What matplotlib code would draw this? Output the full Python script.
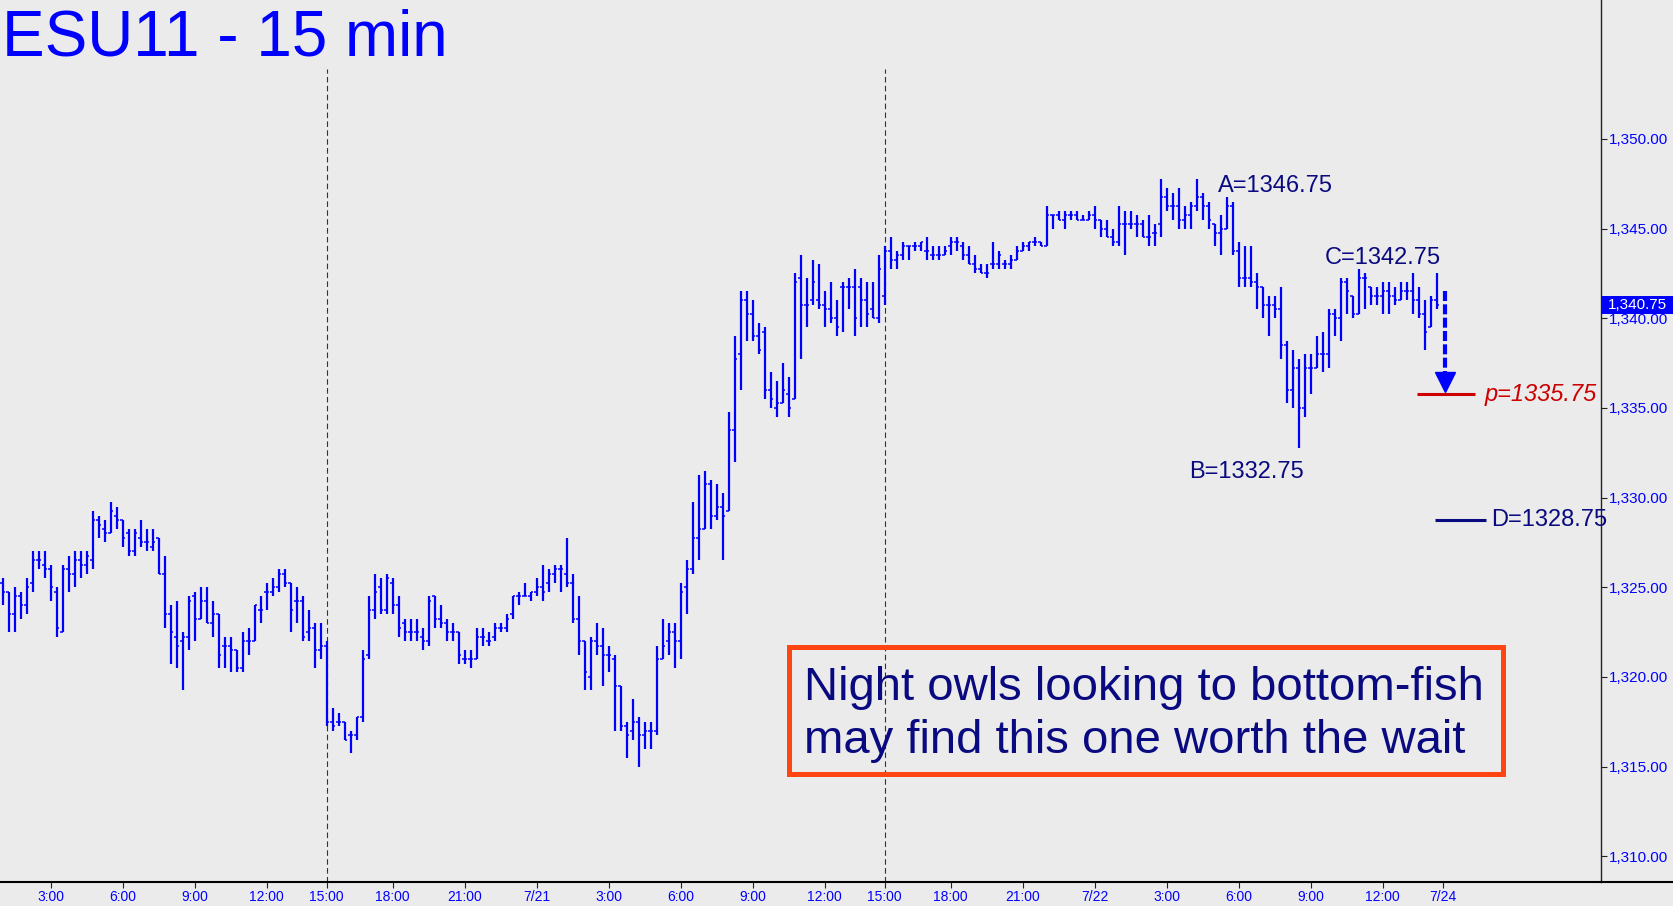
"""ESU11 15-minute bar chart with ABCD pattern annotation."""
import matplotlib
matplotlib.use("Agg")
import matplotlib.pyplot as plt
import numpy as np
from matplotlib.lines import Line2D
from matplotlib.patches import Rectangle
from matplotlib.ticker import FuncFormatter
from matplotlib.transforms import blended_transform_factory

plt.rcParams["font.family"] = ["Liberation Sans", "DejaVu Sans"]

# OHLC per 15-min bar (bar index = position on the x axis)
opens = [
    1325.25, 1324.75, 1323.5, 1324.5, 1324.0, 1325.25, 1326.5, 1326.25, 1326.0, 1324.75,
    1322.5, 1326.0, 1325.75, 1326.5, 1326.25, 1326.5, 1328.75, 1328.25, 1328.0, 1329.0,
    1328.75, 1328.0, 1327.0, 1327.75, 1327.5, 1327.25, 1327.75, 1325.75, 1323.5, 1322.25,
    1322.0, 1322.25, 1324.5, 1323.25, 1324.25, 1323.0, 1323.5, 1321.75, 1321.75, 1321.5,
    1320.5, 1322.0, 1322.0, 1323.75, 1324.75, 1324.75, 1325.0, 1325.75, 1325.25, 1324.25,
    1324.25, 1322.5, 1322.75, 1321.5, 1321.75, 1317.5, 1317.5, 1317.5, 1316.75, 1316.75,
    1317.75, 1321.25, 1323.75, 1325.0, 1323.75, 1325.25, 1324.0, 1323.0, 1322.5, 1322.5,
    1322.25, 1322.0, 1324.5, 1323.25, 1323.0, 1322.5, 1322.5, 1321.0, 1321.0, 1321.0,
    1322.25, 1322.0, 1322.25, 1322.75, 1322.75, 1323.5, 1324.5, 1324.5, 1324.5, 1324.75,
    1325.0, 1325.25, 1325.75, 1326.0, 1325.75, 1325.25, 1323.25, 1322.0, 1320.0, 1322.0,
    1321.75, 1321.25, 1321.0, 1319.5, 1317.25, 1317.0, 1317.5, 1316.75, 1317.0, 1317.0,
    1321.0, 1322.0, 1322.5, 1322.0, 1325.0, 1326.0, 1327.75, 1328.25, 1330.75, 1329.0,
    1329.5, 1329.25, 1333.75, 1338.0, 1341.0, 1340.25, 1339.0, 1339.25, 1336.0, 1335.0,
    1335.25, 1335.75, 1335.5, 1342.25, 1340.75, 1341.0, 1341.0, 1340.75, 1340.5, 1340.0,
    1341.75, 1341.75, 1341.75, 1341.75, 1341.0, 1340.5, 1340.0, 1341.25, 1343.75, 1343.25,
    1343.5, 1344.0, 1344.0, 1344.0, 1343.75, 1343.5, 1343.5, 1343.5, 1344.0, 1344.25,
    1344.0, 1343.5, 1343.0, 1342.75, 1342.5, 1343.0, 1343.0, 1343.0, 1343.0, 1343.25,
    1343.75, 1344.0, 1344.25, 1344.25, 1344.0, 1345.75, 1345.75, 1345.5, 1345.75, 1345.75,
    1345.5, 1345.5, 1345.75, 1345.5, 1345.0, 1344.5, 1344.25, 1345.25, 1345.25, 1345.25,
    1345.25, 1344.5, 1344.75, 1345.25, 1346.75, 1346.25, 1346.25, 1345.5, 1345.75, 1346.25,
    1346.75, 1346.25, 1345.25, 1344.75, 1345.0, 1346.25, 1343.75, 1342.25, 1342.25, 1342.0,
    1341.75, 1340.75, 1340.75, 1340.5, 1338.5, 1336.0, 1337.25, 1335.0, 1337.25, 1337.25,
    1338.0, 1338.0, 1340.25, 1340.0, 1342.0, 1341.25, 1340.25, 1342.25, 1341.75, 1341.25,
    1341.25, 1341.5, 1341.25, 1341.0, 1341.5, 1341.5, 1341.0, 1340.25, 1339.5, 1341.0,
]
highs = [
    1325.5, 1324.75, 1325.0, 1324.75, 1325.5, 1327.0, 1327.0, 1327.0, 1326.25, 1325.0,
    1326.25, 1326.75, 1327.0, 1327.0, 1327.0, 1329.25, 1329.0, 1328.75, 1329.75, 1329.5,
    1328.75, 1328.25, 1328.25, 1328.75, 1328.25, 1328.25, 1327.75, 1326.75, 1324.0, 1324.25,
    1322.5, 1324.5, 1324.75, 1325.0, 1325.0, 1324.25, 1323.5, 1322.25, 1322.25, 1321.5,
    1322.5, 1322.75, 1324.0, 1324.5, 1325.25, 1325.5, 1326.0, 1326.0, 1325.25, 1325.0,
    1324.5, 1323.75, 1323.0, 1323.0, 1322.0, 1318.25, 1318.0, 1317.5, 1317.0, 1317.75,
    1321.5, 1324.5, 1325.75, 1325.5, 1325.75, 1325.5, 1324.5, 1323.25, 1323.25, 1323.25,
    1322.75, 1324.5, 1324.5, 1324.0, 1323.25, 1323.0, 1322.5, 1321.5, 1321.5, 1322.75,
    1322.75, 1322.5, 1323.0, 1323.0, 1323.5, 1324.5, 1324.75, 1325.25, 1324.75, 1325.5,
    1326.25, 1326.0, 1326.25, 1326.25, 1327.75, 1325.75, 1324.5, 1322.0, 1322.25, 1323.0,
    1322.75, 1321.75, 1321.25, 1319.5, 1317.5, 1318.75, 1317.75, 1317.5, 1317.5, 1321.75,
    1323.25, 1323.0, 1323.0, 1325.25, 1326.5, 1329.75, 1331.25, 1331.5, 1331.0, 1330.75,
    1330.25, 1334.75, 1339.0, 1341.5, 1341.5, 1341.0, 1339.75, 1339.5, 1337.0, 1336.5,
    1337.5, 1336.75, 1342.5, 1343.5, 1342.25, 1343.25, 1343.0, 1341.5, 1342.0, 1341.0,
    1342.0, 1342.25, 1342.75, 1342.25, 1342.0, 1342.0, 1343.5, 1344.0, 1344.5, 1343.75,
    1344.25, 1344.0, 1344.25, 1344.25, 1344.5, 1344.0, 1344.0, 1344.0, 1344.5, 1344.5,
    1344.25, 1344.0, 1343.5, 1343.0, 1343.0, 1344.25, 1343.75, 1343.25, 1343.5, 1344.0,
    1344.25, 1344.25, 1344.5, 1344.25, 1346.25, 1345.75, 1346.0, 1346.0, 1346.0, 1346.0,
    1345.75, 1346.0, 1346.25, 1345.5, 1345.5, 1345.0, 1346.25, 1346.0, 1346.0, 1345.75,
    1345.5, 1345.75, 1345.25, 1347.75, 1347.25, 1347.0, 1347.25, 1346.25, 1346.5, 1347.75,
    1347.0, 1346.5, 1345.25, 1345.75, 1346.75, 1346.5, 1344.25, 1344.0, 1344.0, 1342.5,
    1341.75, 1341.25, 1341.25, 1341.75, 1338.75, 1338.25, 1337.75, 1338.0, 1338.0, 1339.0,
    1339.25, 1340.5, 1340.5, 1342.25, 1342.25, 1341.25, 1342.75, 1342.5, 1341.75, 1341.75,
    1342.0, 1342.0, 1341.75, 1342.0, 1342.0, 1342.5, 1341.75, 1341.0, 1341.25, 1342.5,
]
lows = [
    1324.0, 1322.5, 1322.5, 1323.25, 1323.5, 1324.75, 1326.0, 1325.5, 1324.25, 1322.25,
    1322.5, 1324.75, 1325.0, 1325.5, 1325.75, 1326.0, 1327.75, 1327.5, 1328.0, 1328.25,
    1327.25, 1326.75, 1326.75, 1327.25, 1327.0, 1327.0, 1325.75, 1322.75, 1320.75, 1320.5,
    1319.25, 1321.5, 1322.0, 1323.25, 1323.0, 1322.25, 1320.5, 1320.5, 1320.25, 1320.25,
    1320.25, 1321.25, 1322.0, 1323.0, 1323.75, 1324.5, 1324.75, 1325.0, 1322.5, 1323.0,
    1322.0, 1322.0, 1320.5, 1321.0, 1317.25, 1317.0, 1317.25, 1316.5, 1315.75, 1316.5,
    1317.5, 1321.0, 1323.25, 1323.5, 1323.5, 1323.5, 1322.25, 1322.0, 1322.0, 1322.0,
    1321.5, 1321.75, 1322.75, 1322.75, 1322.0, 1322.0, 1320.75, 1320.75, 1320.5, 1321.0,
    1321.75, 1321.75, 1322.0, 1322.5, 1322.5, 1323.25, 1324.0, 1324.5, 1324.25, 1324.5,
    1324.25, 1324.75, 1325.25, 1324.75, 1325.0, 1323.0, 1321.25, 1319.25, 1319.25, 1321.25,
    1319.5, 1320.25, 1317.0, 1317.0, 1315.5, 1316.5, 1315.0, 1316.0, 1316.0, 1316.75,
    1321.0, 1321.25, 1320.5, 1321.0, 1323.5, 1325.75, 1326.5, 1328.25, 1328.25, 1328.75,
    1326.5, 1329.25, 1332.0, 1336.0, 1338.75, 1338.75, 1338.0, 1335.5, 1335.0, 1334.5,
    1335.25, 1334.5, 1335.5, 1337.75, 1339.5, 1340.75, 1340.5, 1339.5, 1339.75, 1339.0,
    1339.25, 1340.5, 1339.0, 1339.5, 1339.5, 1340.0, 1339.75, 1340.75, 1342.75, 1342.75,
    1343.25, 1343.25, 1343.75, 1343.75, 1343.25, 1343.25, 1343.25, 1343.5, 1343.5, 1343.75,
    1343.25, 1343.0, 1342.5, 1342.5, 1342.25, 1342.75, 1342.75, 1342.75, 1342.75, 1343.25,
    1343.75, 1343.75, 1344.0, 1344.0, 1344.0, 1345.0, 1345.5, 1345.0, 1345.5, 1345.5,
    1345.5, 1345.5, 1345.0, 1344.5, 1344.5, 1344.0, 1344.0, 1343.5, 1345.0, 1344.5,
    1344.5, 1344.0, 1344.0, 1344.5, 1346.0, 1345.5, 1345.0, 1345.0, 1345.0, 1346.0,
    1345.5, 1345.0, 1344.0, 1343.5, 1345.0, 1343.5, 1341.75, 1341.75, 1341.75, 1340.5,
    1340.0, 1339.0, 1340.0, 1337.75, 1335.25, 1335.0, 1332.75, 1334.5, 1335.75, 1337.25,
    1337.0, 1337.25, 1339.0, 1338.75, 1340.25, 1340.0, 1340.25, 1340.5, 1340.75, 1340.75,
    1340.25, 1340.25, 1340.75, 1341.0, 1341.0, 1340.25, 1340.0, 1338.25, 1339.5, 1340.5,
]
closes = [
    1324.75, 1323.5, 1324.5, 1324.0, 1325.0, 1326.5, 1326.5, 1326.0, 1325.0, 1322.75,
    1326.0, 1325.75, 1326.5, 1326.25, 1326.75, 1328.75, 1328.5, 1328.0, 1329.25, 1328.75,
    1327.75, 1327.0, 1328.0, 1327.5, 1327.5, 1327.5, 1325.75, 1323.5, 1322.5, 1321.75,
    1322.25, 1324.25, 1323.25, 1324.25, 1323.0, 1323.5, 1321.25, 1321.75, 1321.5, 1320.5,
    1322.0, 1322.0, 1324.0, 1323.75, 1324.75, 1325.0, 1325.75, 1325.25, 1323.75, 1324.25,
    1322.25, 1322.75, 1321.5, 1321.75, 1317.5, 1317.25, 1317.5, 1316.5, 1316.75, 1317.75,
    1321.0, 1323.75, 1324.75, 1323.75, 1325.5, 1324.0, 1322.75, 1322.5, 1322.5, 1322.5,
    1322.0, 1324.25, 1323.25, 1323.0, 1322.5, 1322.5, 1321.25, 1321.0, 1321.0, 1322.25,
    1322.25, 1322.0, 1322.75, 1322.75, 1323.25, 1324.5, 1324.5, 1324.5, 1324.75, 1325.0,
    1324.75, 1325.75, 1326.0, 1326.0, 1325.25, 1323.25, 1322.0, 1320.25, 1322.0, 1321.75,
    1321.25, 1321.25, 1319.5, 1317.25, 1316.75, 1317.5, 1316.75, 1317.0, 1317.0, 1321.0,
    1321.75, 1322.5, 1322.0, 1324.75, 1326.0, 1327.75, 1328.25, 1330.75, 1329.0, 1329.5,
    1329.0, 1333.75, 1337.75, 1341.0, 1340.25, 1339.0, 1338.25, 1336.0, 1335.5, 1335.25,
    1336.0, 1335.0, 1342.0, 1340.75, 1340.75, 1342.0, 1340.75, 1340.5, 1340.0, 1339.5,
    1341.75, 1341.75, 1340.0, 1341.0, 1340.25, 1340.0, 1342.75, 1343.75, 1343.25, 1343.5,
    1344.0, 1344.0, 1344.0, 1344.25, 1343.75, 1343.5, 1343.5, 1343.75, 1344.25, 1344.25,
    1343.5, 1343.0, 1342.75, 1342.5, 1342.5, 1343.0, 1343.5, 1343.0, 1343.25, 1343.75,
    1344.0, 1344.25, 1344.25, 1344.0, 1345.75, 1345.75, 1345.5, 1345.75, 1345.75, 1345.5,
    1345.5, 1345.75, 1345.5, 1345.0, 1344.5, 1344.25, 1345.25, 1345.25, 1345.25, 1345.25,
    1344.5, 1344.5, 1344.75, 1346.75, 1346.25, 1346.25, 1345.5, 1345.75, 1346.25, 1346.75,
    1346.25, 1345.5, 1344.75, 1345.0, 1346.25, 1343.75, 1342.25, 1342.25, 1342.0, 1341.75,
    1340.75, 1340.75, 1340.5, 1338.5, 1336.0, 1337.25, 1335.0, 1337.25, 1337.25, 1338.0,
    1338.0, 1340.25, 1340.0, 1342.0, 1341.5, 1340.25, 1342.25, 1342.25, 1341.25, 1341.25,
    1341.5, 1341.25, 1341.0, 1341.5, 1341.5, 1341.0, 1340.25, 1339.25, 1341.0, 1340.75,
]

# x-axis tick positions (bar index) and labels
tick_pos = [8, 20, 32, 44, 54, 65, 77, 89, 101, 113, 125, 137, 147, 158, 170, 182,
            194, 206, 218, 230, 240]
tick_labels = ["3:00", "6:00", "9:00", "12:00", "15:00", "18:00", "21:00", "7/21",
               "3:00", "6:00", "9:00", "12:00", "15:00", "18:00", "21:00", "7/22",
               "3:00", "6:00", "9:00", "12:00", "7/24"]
session_breaks = [54, 147]
price_ticks = [1310, 1315, 1320, 1325, 1330, 1335, 1340, 1345, 1350]

# pattern points
A_val, B_val, C_val, D_val, p_val = 1346.75, 1332.75, 1342.75, 1328.75, 1335.75
last_price = 1340.75

BG = "#ebebeb"
BLUE = "#0000ff"
NAVY = "#0a0a80"
RED = "#cc0000"

fig = plt.figure(figsize=(16.74, 9.06), dpi=100, facecolor=BG)
ax = fig.add_axes([0, 24 / 906, 1601 / 1674, 882 / 906], facecolor=BG)

x = np.arange(len(highs))
hi = np.array(highs)
lo = np.array(lows)
op = np.clip(opens, lo, hi)
cl = np.clip(closes, lo, hi)

ax.vlines(x, lo, hi, color=BLUE, lw=1.6, zorder=3, snap=True)
ax.hlines(op, x - 0.4, x, color=BLUE, lw=1.1, zorder=3)
ax.hlines(cl, x, x + 0.4, color=BLUE, lw=1.1, zorder=3)

y_bot, y_top = 1308.57, 1357.74
ax.set_xlim(-0.45, 266.38)
ax.set_ylim(y_bot, y_top)

ax.vlines(session_breaks, y_bot, 1353.9, colors="#333333", lw=0.8,
          linestyles=(0, (5, 3)), zorder=2)

# axes styling
for s in ("top", "left"):
    ax.spines[s].set_visible(False)
ax.spines["bottom"].set_linewidth(1.5)
ax.spines["bottom"].set_color("black")
ax.spines["right"].set_linewidth(1.0)
ax.spines["right"].set_color("#222222")
fig.add_artist(Line2D([1601 / 1674, 1], [24 / 906, 24 / 906],
                      transform=fig.transFigure, color="black", lw=1.5))

ax.yaxis.tick_right()
ax.set_yticks(price_ticks)
ax.yaxis.set_major_formatter(FuncFormatter(lambda v, _: f"{v:,.2f}"))
ax.tick_params(axis="y", direction="out", length=4, width=0.8, color="#222222",
               labelsize=11, labelcolor=BLUE, pad=2)
ax.set_xticks(tick_pos)
ax.set_xticklabels(tick_labels)
ax.tick_params(axis="x", direction="out", length=4, width=0.8, color="#222222",
               labelsize=10, labelcolor=BLUE, pad=1.5)

# title
fig.text(0.001, 1 - 56 / 906, "ESU11 - 15 min", fontsize=46, color=BLUE,
         ha="left", va="baseline")

# ABCD labels
ax.text(202.6, 1347.05, f"A={A_val:.2f}", fontsize=17, color=NAVY, va="baseline")
ax.text(197.7, 1331.1, f"B={B_val:.2f}", fontsize=17, color=NAVY, va="baseline")
ax.text(220.4, 1343.0, f"C={C_val:.2f}", fontsize=17, color=NAVY, va="baseline")

ax.hlines(p_val, 235.7, 245.4, color=RED, lw=2.2, zorder=4)
ax.text(246.9, p_val, f"p={p_val:.2f}", fontsize=17, color=RED, style="italic",
        va="center", clip_on=False)
ax.hlines(D_val, 238.7, 247.2, color=NAVY, lw=2.2, zorder=4)
ax.text(248.1, D_val, f"D={D_val:.2f}", fontsize=17, color=NAVY, va="center",
        clip_on=False, zorder=6)

# dashed arrow toward target
ax.plot([240.4, 240.4], [1341.5, 1337.0], color=BLUE, lw=3, dashes=(2.4, 0.8),
        solid_capstyle="butt", zorder=5)
ax.plot([240.4], [1336.45], marker="v", ms=14, color=BLUE, mec=BLUE, zorder=5)

# last price box on the axis
trans = blended_transform_factory(ax.transAxes, ax.transData)
ax.add_patch(Rectangle((1.0, last_price - 0.5), 73 / 1601, 1.0, transform=trans,
                       fc=BLUE, ec="none", clip_on=False, zorder=9))
ax.text(1.0 + 36.5 / 1601, last_price, f"{last_price:,.2f}", transform=trans,
        color="white", fontsize=11, va="center", ha="center", zorder=10,
        clip_on=False)

# comment box
ax.add_patch(Rectangle((0.4931, 0.1222), 0.4457, 0.1437, transform=ax.transAxes,
                       fill=False, ec="#ff4511", lw=3.6, zorder=6))
ax.text(0.5019, 0.2063, "Night owls looking to bottom-fish", transform=ax.transAxes,
        fontsize=34, color=NAVY, va="baseline", zorder=7)
ax.text(0.5019, 0.1459, "may find this one worth the wait", transform=ax.transAxes,
        fontsize=34, color=NAVY, va="baseline", zorder=7)

fig.savefig("out.png", dpi=100, facecolor=BG)
